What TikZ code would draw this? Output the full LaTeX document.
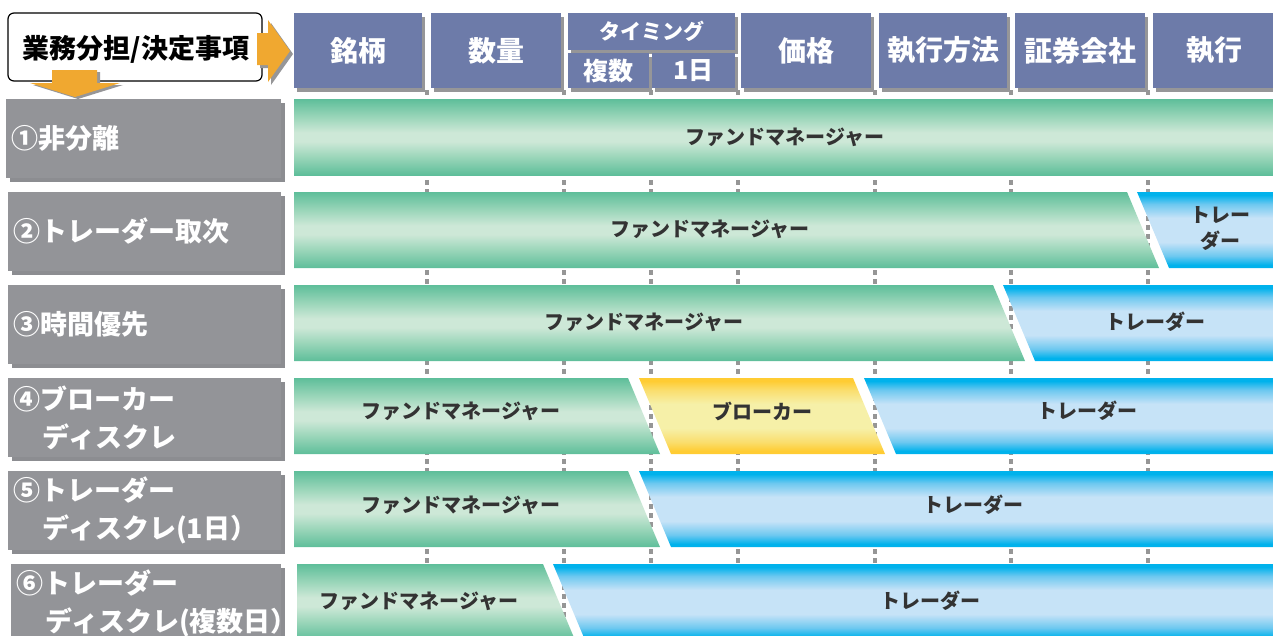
\documentclass[tikz,border=0pt]{standalone}
\usepackage{fontspec}
\setmainfont{Noto Sans CJK JP}
\definecolor{gE}{RGB}{94,190,154}
\definecolor{gM}{RGB}{150,212,183}
\definecolor{gL}{RGB}{205,232,215}
\definecolor{bE}{RGB}{0,178,236}
\definecolor{bM}{RGB}{110,200,240}
\definecolor{bL}{RGB}{198,227,247}
\definecolor{yE}{RGB}{255,204,51}
\definecolor{yM}{RGB}{250,222,110}
\definecolor{yL}{RGB}{246,240,168}
\definecolor{hdr}{RGB}{109,123,169}
\definecolor{hsh}{RGB}{150,150,152}
\definecolor{lab}{RGB}{147,148,152}
\definecolor{lsh}{RGB}{140,141,145}
\definecolor{dotc}{RGB}{150,150,150}
\definecolor{arr}{RGB}{240,168,48}
\definecolor{txt}{RGB}{51,51,51}
\pgfdeclareverticalshading{gbar}{100bp}{color(0bp)=(gE); color(25bp)=(gE); color(36bp)=(gM); color(47bp)=(gL); color(53bp)=(gL); color(64bp)=(gM); color(75bp)=(gE); color(100bp)=(gE)}
\pgfdeclareverticalshading{bbar}{100bp}{color(0bp)=(bE); color(25bp)=(bE); color(27bp)=(bE); color(33bp)=(bM); color(42bp)=(bL); color(58bp)=(bL); color(67bp)=(bM); color(73bp)=(bE); color(75bp)=(bE); color(100bp)=(bE)}
\pgfdeclareverticalshading{ybar}{100bp}{color(0bp)=(yE); color(25bp)=(yE); color(27bp)=(yE); color(33bp)=(yM); color(42bp)=(yL); color(58bp)=(yL); color(67bp)=(yM); color(73bp)=(yE); color(75bp)=(yE); color(100bp)=(yE)}
\tikzset{
  hdrtext/.style={text=white,font=\bfseries\fontsize{28}{30}\selectfont,inner sep=0},
  labtext/.style={text=white,font=\bfseries\fontsize{27}{38}\selectfont,inner sep=0,anchor=west,align=left},
  bartext/.style={text=txt,font=\bfseries\fontsize{20}{26}\selectfont,inner sep=0,align=center},
  dotline/.style={draw=dotc,line width=4.5pt,dash pattern=on 5pt off 4pt},
}
\newcommand\hdrcell[6]{%
  \fill[hsh] (#2+3,#3+4) rectangle (#4+3,#5+4);
  \fill[hdr] (#2,#3) rectangle (#4,#5);
  \node[hdrtext] (#1) at ({(#2+#4)/2},{(#3+#5)/2}) {#6};}
\newcommand\labcell[4]{% name, x1, top, text
  \fill[lsh] (#2+4,#3+4) rectangle (285,#3+83);
  \fill[lab] (#2,#3) rectangle (281,#3+79);
  \node[labtext] (#1) at (#2+5,#3+39.5) {#4};}
\begin{document}
\begin{tikzpicture}[x=1pt,y=-1pt]
\useasboundingbox (0,0) rectangle (1273,635);
% dotted column guides
\foreach \x in {427,564,651,738,875,1011,1148}
  \draw[dotline] (\x,90) -- (\x,640);
% top-left box and arrows
\node[draw=black,line width=1.2pt,rounded corners=6pt,fill=white,minimum width=254pt,minimum height=68pt,inner sep=0] (corner) at (135,47) {};
\node[text=black,font=\bfseries\fontsize{27}{30}\selectfont,inner sep=0] (cornertext) at (136,49) {業務分担/決定事項};
\fill[hsh] (260,36) -- (271,36) -- (271,23) -- (293,54) -- (271,85) -- (271,68) -- (260,68) -- cycle;
\fill[arr] (257,33) -- (268,33) -- (268,20) -- (290,51) -- (268,82) -- (268,65) -- (257,65) -- cycle;
\fill[hsh] (55,72) -- (100,72) -- (100,85) -- (123,85) -- (78,99) -- (33,85) -- (55,85) -- cycle;
\fill[arr] (52,70) -- (97,70) -- (97,83) -- (120,83) -- (75,97) -- (30,83) -- (52,83) -- cycle;
% header cells
\hdrcell{h1}{294}{13}{422}{88}{銘柄}
\hdrcell{h2}{431}{13}{561}{88}{数量}
\fill[hsh] (571,17) rectangle (738,54);
\fill[hdr] (568,13) rectangle (735,50);
\node[hdrtext,font=\bfseries\fontsize{21}{24}\selectfont] (h3) at (651.5,31.5) {タイミング};
\fill[hsh] (571,57) rectangle (652,92);
\fill[hdr] (568,53) rectangle (649,88);
\node[hdrtext,font=\bfseries\fontsize{25}{28}\selectfont] (h3a) at (608.5,71) {複数};
\fill[hsh] (655,57) rectangle (738,92);
\fill[hdr] (652,53) rectangle (735,88);
\node[hdrtext,font=\bfseries\fontsize{25}{28}\selectfont] (h3b) at (693.5,71) {1日};
\hdrcell{h4}{741}{13}{871}{88}{価格}
\hdrcell{h5}{879}{13}{1007}{88}{執行方法}
\hdrcell{h6}{1015}{13}{1145}{88}{証券会社}
\hdrcell{h7}{1153}{13}{1276}{88}{執行}
% row labels
\labcell{l1}{6}{99}{①非分離}
\labcell{l2}{8}{192}{②トレーダー取次}
\labcell{l3}{8}{285}{③時間優先}
\labcell{l4}{8}{378}{④ブローカー\\\hspace*{1.1em}ディスクレ}
\labcell{l5}{8}{471}{⑤トレーダー\\\hspace*{1.1em}ディスクレ(1日）}
\labcell{l6}{11}{564}{⑥トレーダー\\\hspace*{1.1em}ディスクレ(複数日）}
% row 1
\shade[shading=gbar] (294,99) rectangle (1273,175);
\node[bartext] (r1g) at (785,137) {ファンドマネージャー};
% row 2
\shade[shading=gbar] (294,192) -- (1127,192) -- (1159,268) -- (294,268) -- cycle;
\shade[shading=bbar] (1137,192) -- (1273,192) -- (1273,268) -- (1169,268) -- cycle;
\node[bartext] (r2g) at (710,229) {ファンドマネージャー};
\node[bartext] (r2b) at (1220,229) {トレー\\ダー};
% row 3
\shade[shading=gbar] (294,285) -- (993,285) -- (1025,361) -- (294,361) -- cycle;
\shade[shading=bbar] (1003,285) -- (1273,285) -- (1273,361) -- (1035,361) -- cycle;
\node[bartext] (r3g) at (644,322) {ファンドマネージャー};
\node[bartext] (r3b) at (1155,322) {トレーダー};
% row 4
\shade[shading=gbar] (294,378) -- (628,378) -- (660,454) -- (294,454) -- cycle;
\shade[shading=ybar] (639,378) -- (853,378) -- (885,454) -- (671,454) -- cycle;
\shade[shading=bbar] (864,378) -- (1273,378) -- (1273,454) -- (896,454) -- cycle;
\node[bartext] (r4g) at (461,411) {ファンドマネージャー};
\node[bartext] (r4y) at (762,411) {ブローカー};
\node[bartext] (r4b) at (1087,411) {トレーダー};
% row 5
\shade[shading=gbar] (294,471) -- (628,471) -- (660,547) -- (294,547) -- cycle;
\shade[shading=bbar] (639,471) -- (1273,471) -- (1273,547) -- (671,547) -- cycle;
\node[bartext] (r5g) at (461,505) {ファンドマネージャー};
\node[bartext] (r5b) at (973,505) {トレーダー};
% row 6
\shade[shading=gbar] (297,564) -- (543,564) -- (575,640) -- (297,640) -- cycle;
\shade[shading=bbar] (553,564) -- (1273,564) -- (1273,640) -- (585,640) -- cycle;
\node[bartext] (r6g) at (419,601) {ファンドマネージャー};
\node[bartext] (r6b) at (930,601) {トレーダー};
\end{tikzpicture}
\end{document}
